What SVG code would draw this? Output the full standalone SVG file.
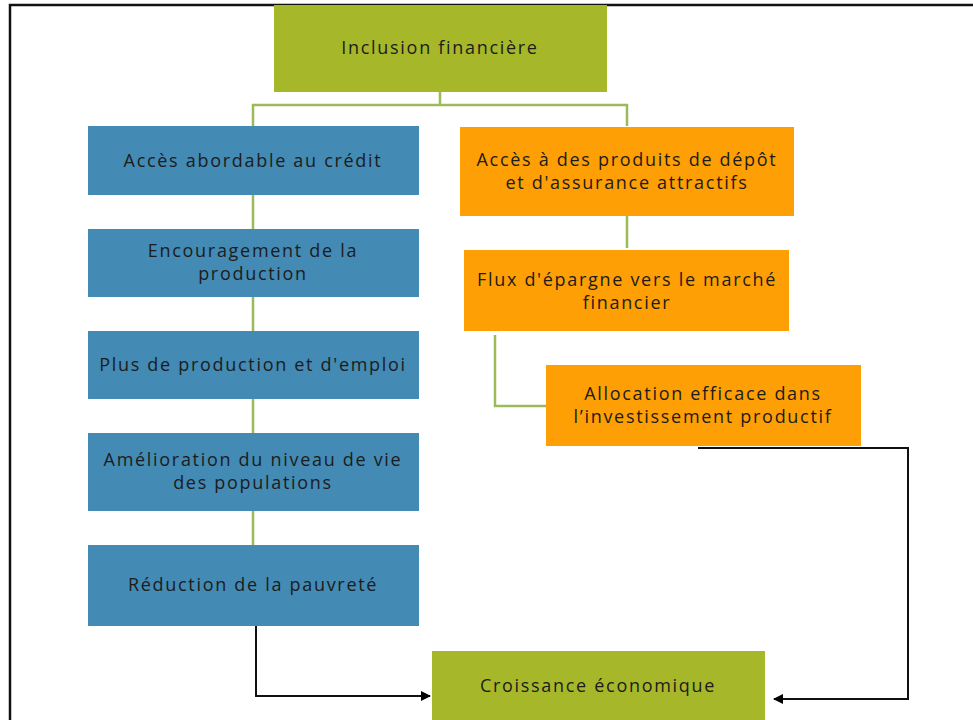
<svg xmlns="http://www.w3.org/2000/svg" width="973" height="720" viewBox="0 0 973 720">
<style>
.g{fill:#A6B72A}
.b{fill:#438AB4}
.o{fill:#FE9F05}
text{font-family:"Open Sans","Liberation Sans",sans-serif;font-size:18px;letter-spacing:1.7px;fill:#1c1c1c;text-anchor:middle}
.gl{fill:none;stroke:#9BBB59;stroke-width:2.5}
.bl{fill:none;stroke:#111;stroke-width:2}
</style>
<defs>
<marker id="ar" markerWidth="10" markerHeight="10" refX="9" refY="5" orient="auto" markerUnits="userSpaceOnUse">
<path d="M0,0 L10,5 L0,10 z" fill="#000"/>
</marker>
</defs>
<rect x="0" y="0" width="973" height="720" fill="#fff"/>
<path d="M10,720 V5 H973" fill="none" stroke="#111" stroke-width="2.5"/>
<g id="connectors">
<path class="gl" d="M440,92 V105 M253,126 V105 H627 V126"/>
<path class="gl" d="M253,195 V229 M253,297 V331 M253,399 V433 M253,511 V545"/>
<path class="gl" d="M627,216 V248"/>
<path class="gl" d="M495,335 V406 H546"/>
<path class="bl" d="M256,626 V696 H430" marker-end="url(#ar)"/>
<path class="bl" d="M698,448 H908 V699 H774" marker-end="url(#ar)"/>
</g>
<g id="n1"><rect class="g" x="274" y="5" width="333" height="87"/><text x="440" y="54">Inclusion financière</text></g>
<g id="n2"><rect class="b" x="88" y="126" width="331" height="69"/><text x="253" y="167">Accès abordable au crédit</text></g>
<g id="n3"><rect class="b" x="88" y="229" width="331" height="68"/><text x="253" y="257">Encouragement de la</text><text x="253" y="280">production</text></g>
<g id="n4"><rect class="b" x="88" y="331" width="331" height="68"/><text x="253" y="371">Plus de production et d'emploi</text></g>
<g id="n5"><rect class="b" x="88" y="433" width="331" height="78"/><text x="253" y="466">Amélioration du niveau de vie</text><text x="253" y="489">des populations</text></g>
<g id="n6"><rect class="b" x="88" y="545" width="331" height="81"/><text x="253" y="591">Réduction de la pauvreté</text></g>
<g id="n7"><rect class="o" x="460" y="127" width="334" height="89"/><text x="627" y="166">Accès à des produits de dépôt</text><text x="627" y="189">et d'assurance attractifs</text></g>
<g id="n8"><rect class="o" x="464" y="250" width="325" height="81"/><text x="627" y="286">Flux d'épargne vers le marché</text><text x="627" y="309">financier</text></g>
<g id="n9"><rect class="o" x="546" y="365" width="315" height="81"/><text x="703" y="400">Allocation efficace dans</text><text x="703" y="423">l’investissement productif</text></g>
<g id="n10"><rect class="g" x="432" y="651" width="333" height="69"/><text x="598" y="692">Croissance économique</text></g>
</svg>
